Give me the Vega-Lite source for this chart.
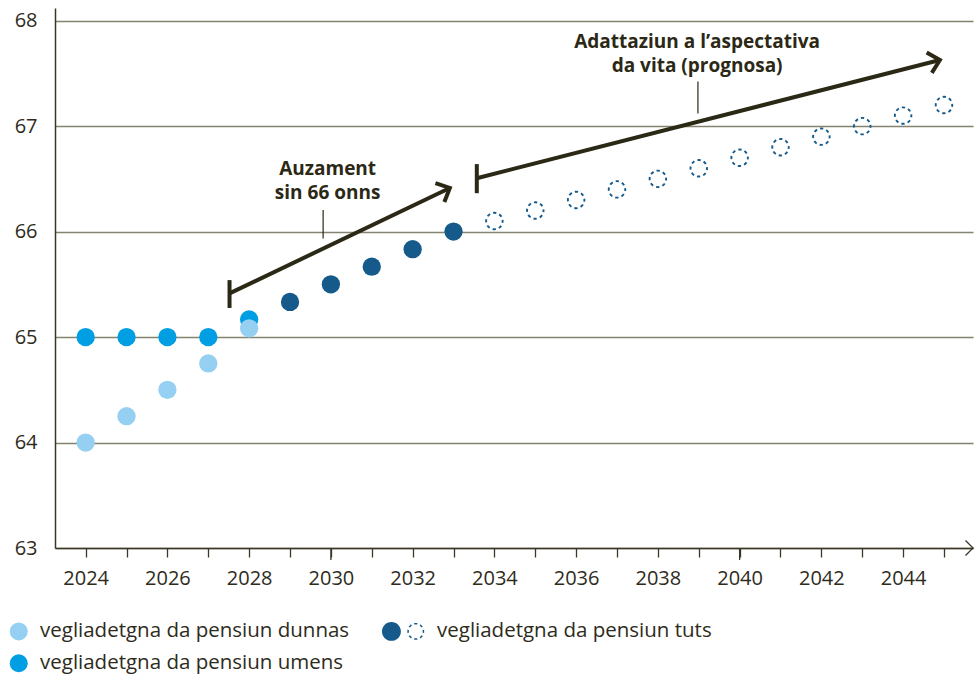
{
  "$schema": "https://vega.github.io/schema/vega-lite/v6.json",
  "width": 918,
  "height": 540,
  "autosize": {"type": "none"},
  "padding": {"left": 55, "top": 8, "right": 1, "bottom": 126},
  "background": "white",
  "config": {
    "view": {"stroke": null},
    "font": "Open Sans",
    "legend": {"orient": "none", "legendX": -46.5, "legendY": 613, "direction": "horizontal", "columns": 2,
      "symbolSize": 324, "symbolOpacity": 1, "symbolStrokeWidth": 0, "labelFontSize": 20.5, "labelFont": "Open Sans", "labelColor": "#2e2b1b", "labelOffset": 11,
      "rowPadding": 11, "columnPadding": 32, "padding": 0, "labelLimit": 500}
  },
  "datasets": {
    "pts": [
      {"year": 2024, "age": 65, "group": "vegliadetgna da pensiun umens"},
      {"year": 2025, "age": 65, "group": "vegliadetgna da pensiun umens"},
      {"year": 2026, "age": 65, "group": "vegliadetgna da pensiun umens"},
      {"year": 2027, "age": 65, "group": "vegliadetgna da pensiun umens"},
      {"year": 2028, "age": 65.167, "group": "vegliadetgna da pensiun umens"},
      {"year": 2024, "age": 64, "group": "vegliadetgna da pensiun dunnas"},
      {"year": 2025, "age": 64.25, "group": "vegliadetgna da pensiun dunnas"},
      {"year": 2026, "age": 64.5, "group": "vegliadetgna da pensiun dunnas"},
      {"year": 2027, "age": 64.75, "group": "vegliadetgna da pensiun dunnas"},
      {"year": 2028, "age": 65.083, "group": "vegliadetgna da pensiun dunnas"},
      {"year": 2029, "age": 65.333, "group": "vegliadetgna da pensiun tuts"},
      {"year": 2030, "age": 65.5, "group": "vegliadetgna da pensiun tuts"},
      {"year": 2031, "age": 65.667, "group": "vegliadetgna da pensiun tuts"},
      {"year": 2032, "age": 65.833, "group": "vegliadetgna da pensiun tuts"},
      {"year": 2033, "age": 66, "group": "vegliadetgna da pensiun tuts"}
    ],
    "prognosa": [
      {"year": 2034, "age": 66.1},
      {"year": 2035, "age": 66.2},
      {"year": 2036, "age": 66.3},
      {"year": 2037, "age": 66.4},
      {"year": 2038, "age": 66.5},
      {"year": 2039, "age": 66.6},
      {"year": 2040, "age": 66.7},
      {"year": 2041, "age": 66.8},
      {"year": 2042, "age": 66.9},
      {"year": 2043, "age": 67.0},
      {"year": 2044, "age": 67.1},
      {"year": 2045, "age": 67.2}
    ],
    "arrows": [
      {"name": "auzament", "xs": 2027.52, "ys": 65.414, "xe": 2032.91, "ye": 66.414, "tlo": 65.276, "thi": 65.54},
      {"name": "adattaziun", "xs": 2033.57, "ys": 66.506, "xe": 2044.9, "ye": 67.627, "tlo": 66.364, "thi": 66.64}
    ],
    "labels": [
      {"x": 2029.92, "y": 66.537, "text": ["Auzament", "sin 66 onns"]},
      {"x": 2038.96, "y": 67.745, "text": ["Adattaziun a l’aspectativa", "da vita (prognosa)"]}
    ],
    "leaders": [
      {"x": 2029.81, "y1": 66.205, "y2": 65.934},
      {"x": 2038.98, "y1": 67.423, "y2": 67.12}
    ],
    "majorticks": [{"year": 2030, "y1": 63, "y2": 62.886}, {"year": 2040, "y1": 63, "y2": 62.886}],
    "axisend": [{"x": 2045.71, "y": 63}]
  },
  "layer": [
    {
      "data": {"name": "prognosa"},
      "mark": {"type": "point", "shape": "circle", "filled": false, "size": 272, "stroke": "#155a8a", "strokeWidth": 1.9, "strokeDash": [3.3, 3.18], "strokeDashOffset": 1.6, "opacity": 1},
      "encoding": {
        "x": {"field": "year", "type": "quantitative", "scale": {"domain": [2023.25, 2045.71], "nice": false, "zero": false},
          "axis": {"values": [2024,2025,2026,2027,2028,2029,2030,2031,2032,2033,2034,2035,2036,2037,2038,2039,2040,2041,2042,2043,2044,2045],
            "labelExpr": "datum.value % 2 === 0 ? datum.label : ''", "format": "d", "grid": false, "title": null,
            "domainColor": "#3a3726", "domainWidth": 1.5, "tickColor": "#3a3726", "tickWidth": 1.3, "tickSize": 9,
            "labelFontSize": 20, "labelColor": "#2e2b1b", "labelPadding": 11, "labelOverlap": false, "labelFont": "Open Sans"}},
        "y": {"field": "age", "type": "quantitative", "scale": {"domain": [63, 68.12], "nice": false, "zero": false},
          "axis": {"values": [63, 64, 65, 66, 67, 68], "format": "d", "grid": true, "gridColor": "#85826f", "gridWidth": 1.3, "ticks": false,
            "domainColor": "#3a3726", "domainWidth": 1.5, "labelFontSize": 20, "labelPadding": 18, "labelColor": "#2e2b1b", "title": null, "labelFont": "Open Sans"}}
      }
    },
    {
      "data": {"name": "pts"},
      "mark": {"type": "point", "filled": true, "size": 335, "opacity": 0, "strokeWidth": 0},
      "encoding": {
        "x": {"field": "year", "type": "quantitative", "scale": {"domain": [2023.25, 2045.71], "nice": false, "zero": false}},
        "y": {"field": "age", "type": "quantitative", "scale": {"domain": [63, 68.12], "nice": false, "zero": false}},
        "color": {"field": "group", "type": "nominal",
          "scale": {"domain": ["vegliadetgna da pensiun dunnas", "vegliadetgna da pensiun tuts", "vegliadetgna da pensiun umens"], "range": ["#95d0f2", "#155a8a", "#009ee2"]},
          "legend": {"title": null}},
        "shape": {"field": "group", "type": "nominal",
          "scale": {"domain": ["vegliadetgna da pensiun dunnas", "vegliadetgna da pensiun tuts", "vegliadetgna da pensiun umens"],
            "range": ["circle", "M-3.75,0A1.05,1.05,0,1,1,-1.65,0A1.05,1.05,0,1,1,-3.75,0Z M0.9318,-0.1853L0.9318,0.1853L0.765,0.1522L0.765,-0.1522Z M0.7899,0.5278L0.5278,0.7899L0.4333,0.6485L0.6485,0.4333Z M0.1853,0.9318L-0.1853,0.9318L-0.1522,0.765L0.1522,0.765Z M-0.5278,0.7899L-0.7899,0.5278L-0.6485,0.4333L-0.4333,0.6485Z M-0.9318,0.1853L-0.9318,-0.1853L-0.765,-0.1522L-0.765,0.1522Z M-0.7899,-0.5278L-0.5278,-0.7899L-0.4333,-0.6485L-0.6485,-0.4333Z M-0.1853,-0.9318L0.1853,-0.9318L0.1522,-0.765L-0.1522,-0.765Z M0.5278,-0.7899L0.7899,-0.5278L0.6485,-0.4333L0.4333,-0.6485Z", "circle"]},
          "legend": {"title": null}}
      }
    },
    {
      "data": {"name": "pts"},
      "mark": {"type": "point", "shape": "circle", "filled": true, "size": 335, "opacity": 1, "strokeWidth": 0},
      "encoding": {
        "x": {"field": "year", "type": "quantitative", "scale": {"domain": [2023.25, 2045.71], "nice": false, "zero": false}},
        "y": {"field": "age", "type": "quantitative", "scale": {"domain": [63, 68.12], "nice": false, "zero": false}},
        "color": {"field": "group", "type": "nominal",
          "scale": {"domain": ["vegliadetgna da pensiun dunnas", "vegliadetgna da pensiun tuts", "vegliadetgna da pensiun umens"], "range": ["#95d0f2", "#155a8a", "#009ee2"]},
          "legend": {"title": null}}
      }
    },
    {
      "data": {"name": "majorticks"},
      "mark": {"type": "rule", "color": "#3a3726", "strokeWidth": 1.3, "clip": false},
      "encoding": {
        "x": {"field": "year", "type": "quantitative", "scale": {"domain": [2023.25, 2045.71], "nice": false, "zero": false}},
        "y": {"field": "y1", "type": "quantitative", "scale": {"domain": [63, 68.12], "nice": false, "zero": false}},
        "y2": {"field": "y2"}
      }
    },
    {
      "data": {"name": "arrows"},
      "mark": {"type": "rule", "color": "#2b2815", "strokeWidth": 4, "strokeCap": "butt"},
      "encoding": {
        "x": {"field": "xs", "type": "quantitative", "scale": {"domain": [2023.25, 2045.71], "nice": false, "zero": false}},
        "y": {"field": "ys", "type": "quantitative", "scale": {"domain": [63, 68.12], "nice": false, "zero": false}},
        "x2": {"field": "xe"},
        "y2": {"field": "ye"}
      }
    },
    {
      "data": {"name": "arrows"},
      "mark": {"type": "rule", "color": "#2b2815", "strokeWidth": 4, "strokeCap": "butt"},
      "encoding": {
        "x": {"field": "xs", "type": "quantitative", "scale": {"domain": [2023.25, 2045.71], "nice": false, "zero": false}},
        "y": {"field": "tlo", "type": "quantitative", "scale": {"domain": [63, 68.12], "nice": false, "zero": false}},
        "y2": {"field": "thi"}
      }
    },
    {
      "data": {"name": "arrows"},
      "transform": [{"filter": "datum.name === 'auzament'"}],
      "mark": {"type": "point", "shape": "M-1,-0.95L0,0L-1,0.95", "filled": false, "size": 484, "stroke": "#2b2815", "strokeWidth": 4, "strokeJoin": "miter", "angle": 334.65, "opacity": 1},
      "encoding": {
        "x": {"field": "xe", "type": "quantitative", "scale": {"domain": [2023.25, 2045.71], "nice": false, "zero": false}},
        "y": {"field": "ye", "type": "quantitative", "scale": {"domain": [63, 68.12], "nice": false, "zero": false}}
      }
    },
    {
      "data": {"name": "arrows"},
      "transform": [{"filter": "datum.name === 'adattaziun'"}],
      "mark": {"type": "point", "shape": "M-1,-0.95L0,0L-1,0.95", "filled": false, "size": 484, "stroke": "#2b2815", "strokeWidth": 4, "strokeJoin": "miter", "angle": 345.67, "opacity": 1},
      "encoding": {
        "x": {"field": "xe", "type": "quantitative", "scale": {"domain": [2023.25, 2045.71], "nice": false, "zero": false}},
        "y": {"field": "ye", "type": "quantitative", "scale": {"domain": [63, 68.12], "nice": false, "zero": false}}
      }
    },
    {
      "data": {"name": "leaders"},
      "mark": {"type": "rule", "color": "#2b2815", "strokeWidth": 1.2},
      "encoding": {
        "x": {"field": "x", "type": "quantitative", "scale": {"domain": [2023.25, 2045.71], "nice": false, "zero": false}},
        "y": {"field": "y1", "type": "quantitative", "scale": {"domain": [63, 68.12], "nice": false, "zero": false}},
        "y2": {"field": "y2"}
      }
    },
    {
      "data": {"name": "labels"},
      "mark": {"type": "text", "font": "Open Sans", "fontWeight": "bold", "fontSize": 19, "color": "#2b2815", "align": "center", "baseline": "alphabetic", "lineHeight": 24},
      "encoding": {
        "x": {"field": "x", "type": "quantitative", "scale": {"domain": [2023.25, 2045.71], "nice": false, "zero": false}},
        "y": {"field": "y", "type": "quantitative", "scale": {"domain": [63, 68.12], "nice": false, "zero": false}},
        "text": {"field": "text"}
      }
    },
    {
      "data": {"name": "axisend"},
      "mark": {"type": "point", "shape": "M-1,-1L0,0L-1,1", "filled": false, "size": 225, "stroke": "#3a3726", "strokeWidth": 1.3, "opacity": 1, "clip": false},
      "encoding": {
        "x": {"field": "x", "type": "quantitative", "scale": {"domain": [2023.25, 2045.71], "nice": false, "zero": false}},
        "y": {"field": "y", "type": "quantitative", "scale": {"domain": [63, 68.12], "nice": false, "zero": false}}
      }
    }
  ]
}
